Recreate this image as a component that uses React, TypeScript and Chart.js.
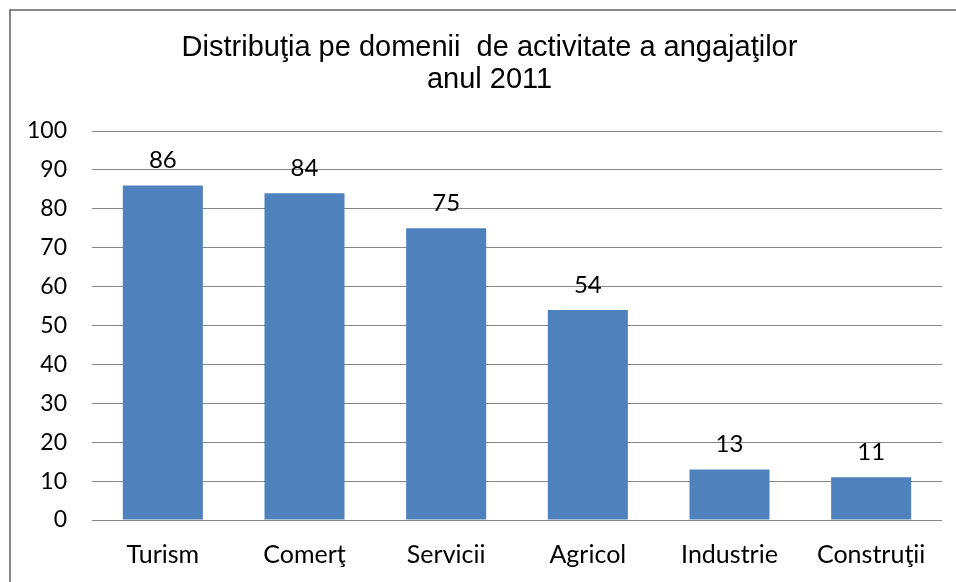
import React, { useEffect, useRef } from "react";
import { Chart, registerables } from "chart.js";

Chart.register(...registerables);

const categories = ["Turism", "Comerţ", "Servicii", "Agricol", "Industrie", "Construţii"];
const values = [86, 84, 75, 54, 13, 11];
const titleLines = ["Distribuţia pe domenii  de activitate a angajaţilor", "anul 2011"];
const yMin = 0;
const yMax = 100;
const yStep = 10;

const frame = {
  id: "frame",
  beforeDraw(chart: any) {
    const ctx = chart.ctx;
    ctx.save();
    ctx.fillStyle = "#ffffff";
    ctx.fillRect(0, 0, chart.width, chart.height);
    ctx.strokeStyle = "#868686";
    ctx.lineWidth = 2;
    ctx.beginPath();
    ctx.moveTo(10, chart.height);
    ctx.lineTo(10, 10);
    ctx.lineTo(chart.width, 10);
    ctx.stroke();
    ctx.font = "29px 'Liberation Sans', Arial";
    ctx.fillStyle = "#000000";
    ctx.textAlign = "center";
    ctx.textBaseline = "middle";
    titleLines.forEach((line, i) => {
      ctx.fillText(line, 489.5, 48 + i * 32);
    });
    ctx.restore();
  },
};

const valueLabels = {
  id: "valueLabels",
  afterDatasetsDraw(chart: any) {
    const ctx = chart.ctx;
    ctx.save();
    ctx.font = "24px Lato";
    ctx.fillStyle = "#000000";
    ctx.textAlign = "center";
    ctx.textBaseline = "middle";
    const meta = chart.getDatasetMeta(0);
    meta.data.forEach((el: any, i: number) => {
      ctx.fillText(String(values[i]), el.x, el.y - 25);
    });
    ctx.restore();
  },
};

export default function App() {
  const ref = useRef<HTMLCanvasElement>(null);
  useEffect(() => {
    document.body.style.margin = "0";
    const chart = new Chart(ref.current!, {
      type: "bar",
      data: {
        labels: categories,
        datasets: [
          {
            data: values,
            backgroundColor: "#4F81BD",
            categoryPercentage: 1,
            barPercentage: 0.565,
          },
        ],
      },
      options: {
        responsive: false,
        animation: false,
        layout: { padding: { left: 0, right: 14, top: 131, bottom: 0 } },
        plugins: {
          legend: { display: false },
          tooltip: { enabled: false },
          title: { display: false },
        },
        scales: {
          x: {
            grid: { display: false, drawTicks: false },
            border: { display: false },
            ticks: { color: "#000000", font: { family: "Lato", size: 25 }, padding: 20 },
            afterFit(scale: any) {
              scale.height = 62;
            },
          },
          y: {
            min: yMin,
            max: yMax,
            grid: { color: "#868686", lineWidth: 1, drawTicks: false },
            border: { display: false },
            ticks: {
              stepSize: yStep,
              color: "#000000",
              font: { family: "Lato", size: 23 },
              padding: 25,
            },
            afterFit(scale: any) {
              scale.width = 92;
            },
          },
        },
      },
      plugins: [frame, valueLabels],
    });
    return () => chart.destroy();
  }, []);
  return (
    <div style={{ position: "absolute", left: 0, top: 0 }}>
      <canvas ref={ref} width={956} height={582} />
    </div>
  );
}
